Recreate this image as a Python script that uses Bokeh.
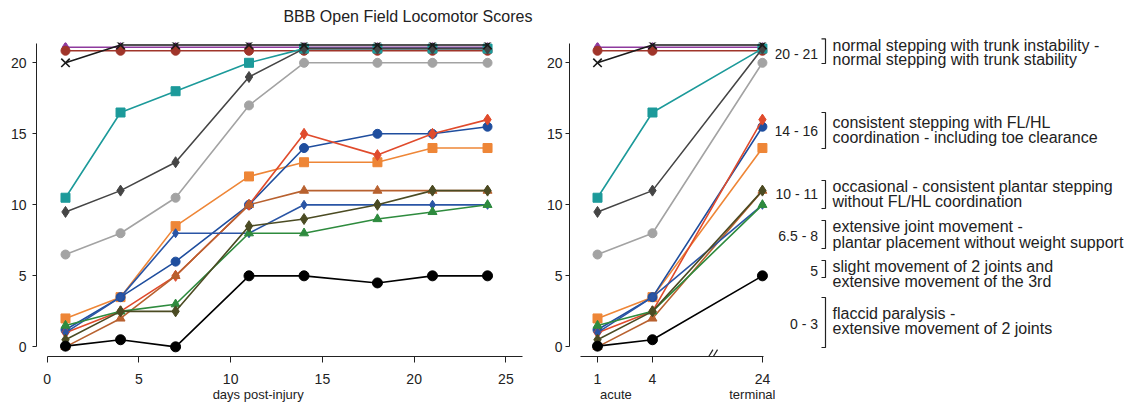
from bokeh.plotting import figure
from bokeh.models import Range1d, FixedTicker, LinearAxis
from bokeh.layouts import row
from bokeh.embed import file_html
from bokeh.resources import INLINE
from bokeh.core.properties import value

# ---------------- data ----------------
title_text = "BBB Open Field Locomotor Scores"
x_label = "days post-injury"
days = [1, 4, 7, 11, 14, 18, 21, 24]
left_xticks = [0, 5, 10, 15, 20, 25]
y_ticks = [0, 5, 10, 15, 20]
right_days = [1, 4, 24]
right_tick_labels = ["1", "4", "24"]
right_sub_labels = ["acute", "terminal"]

s_purple = [21.1, 21.1, 21.1, 21.1, 21.1, 21.1, 21.1, 21.1]
s_darkred = [20.85, 20.85, 20.85, 20.85, 20.85, 20.85, 20.85, 20.85]
s_teal = [10.5, 16.5, 18, 20, 21, 21, 21, 21]
s_darkgray = [9.5, 11, 13, 19, 21, 21, 21, 21]
s_lightgray = [6.5, 8, 10.5, 17, 20, 20, 20, 20]
s_orange = [2, 3.5, 8.5, 12, 13, 13, 14, 14]
s_bluecirc = [1.2, 3.5, 6, 10, 14, 15, 15, 15.5]
s_red = [1, 2.5, 5, 10, 15, 13.5, 15, 16]
s_brown = [0, 2, 5, 10, 11, 11, 11, 11]
s_bluediam = [1, 3.5, 8, 8, 10, 10, 10, 10]
s_green = [1.5, 2.5, 3, 8, 8, 9, 9.5, 10]
s_olive = [0.5, 2.5, 2.5, 8.5, 9, 10, 11, 11]
s_black = [0.05, 0.5, 0, 5, 5, 4.5, 5, 5]
s_cross = [20, 21.25, 21.25, 21.25, 21.25, 21.25, 21.25, 21.25]

bbb_ranges = ["20 - 21", "14 - 16", "10 - 11", "6.5 - 8", "5", "0 - 3"]
bbb_line1 = ["normal stepping with trunk instability -",
             "consistent stepping with FL/HL",
             "occasional - consistent plantar stepping",
             "extensive joint movement -",
             "slight movement of 2 joints and",
             "flaccid paralysis -"]
bbb_line2 = ["normal stepping with trunk stability",
             "coordination - including toe clearance",
             "without FL/HL coordination",
             "plantar placement without weight support",
             "extensive movement of the 3rd",
             "extensive movement of 2 joints"]

# ---------------- styles ----------------
FONT = "Liberation Sans"
TXT = "#222222"
series = [
    (s_purple, "#8E3A9E", "diamond", 10),
    (s_darkred, "#A0352A", "circle", 9),
    (s_teal, "#1C9A9A", "square", 9),
    (s_darkgray, "#454545", "diamond", 11),
    (s_lightgray, "#A3A3A3", "circle", 9),
    (s_orange, "#EE8637", "square", 9),
    (s_bluecirc, "#1F4E9E", "circle", 9),
    (s_red, "#E04B2C", "diamond", 11),
    (s_brown, "#B8612F", "triangle", 9),
    (s_bluediam, "#2A55A5", "diamond", 9),
    (s_green, "#2E8B3E", "triangle", 9),
    (s_olive, "#4B4B23", "diamond", 11),
    (s_black, "#000000", "circle", 10),
    (s_cross, "#1A1A1A", "x", 12),
]

H = 410
TOP = 42
BOTTOM = 54


def style_axes(p):
    p.xgrid.visible = False
    p.ygrid.visible = False
    p.outline_line_color = None
    for ax in p.xaxis + p.yaxis:
        ax.axis_line_color = TXT
        ax.major_tick_line_color = TXT
        ax.minor_tick_line_color = None
        ax.major_tick_in = 0
        ax.major_label_text_font = FONT
        ax.major_label_text_font_size = "14px"
        ax.major_label_text_color = TXT


def text_axis(ticks, overrides, size="13px", standoff=0):
    # an axis with no line and no ticks, used only to place a text under/over the frame
    return LinearAxis(ticker=FixedTicker(ticks=ticks), major_label_overrides=overrides,
                      axis_line_color=None, major_tick_line_color=None,
                      minor_tick_line_color=None, major_tick_out=0, major_tick_in=0,
                      minor_tick_out=0, minor_tick_in=0,
                      major_label_standoff=standoff, major_label_text_font=FONT,
                      major_label_text_font_size=size, major_label_text_color=TXT)


# ---------------- left panel ----------------
pl = figure(width=540, height=H, output_backend="svg", toolbar_location=None,
            x_range=Range1d(-0.58, 25.96), y_range=Range1d(-0.68, 21.43),
            min_border_left=36, min_border_right=17, min_border_top=TOP,
            min_border_bottom=BOTTOM)
style_axes(pl)
pl.xaxis.ticker = FixedTicker(ticks=left_xticks)
pl.yaxis.ticker = FixedTicker(ticks=y_ticks)
pl.xaxis.bounds = (0, 25.9)
pl.yaxis.bounds = (0, 21.35)
pl.xaxis.major_tick_out = 6
pl.xaxis.major_label_standoff = 11
pl.yaxis.major_tick_out = 4
pl.yaxis.major_label_standoff = 6
pl.add_layout(text_axis([11.5], {11.5: x_label}), "below")
# chart title, centred over the two panels
pl.add_layout(text_axis([19.66], {19.66: title_text}, size="16px", standoff=18), "above")

for vals, col, mk, sz in series:
    pl.line(days, vals, line_color=col, line_width=1.6)
    if mk == "x":
        pl.scatter(days, vals, marker=mk, size=sz, line_color=col, line_width=1.6)
    else:
        pl.scatter(days, vals, marker=mk, size=sz, fill_color=col, line_color=col)

# ---------------- right panel ----------------
right_pos = [1, 4, 10]  # axis position of each day (broken axis)
idx = [days.index(d) for d in right_days]

pr = figure(width=235, height=H, output_backend="svg", toolbar_location=None,
            x_range=Range1d(-0.528, 10.44), y_range=Range1d(-0.68, 21.43),
            min_border_left=29, min_border_right=5, min_border_top=TOP,
            min_border_bottom=BOTTOM)
style_axes(pr)
pr.xaxis.ticker = FixedTicker(ticks=right_pos)
pr.xaxis.major_label_overrides = {p: lab for p, lab in zip(right_pos, right_tick_labels)}
pr.yaxis.ticker = FixedTicker(ticks=y_ticks)
pr.xaxis.bounds = (0.08, 10.05)
pr.yaxis.bounds = (0, 21.35)
pr.xaxis.major_tick_out = 6
pr.xaxis.major_label_standoff = 11
pr.yaxis.major_tick_out = 4
pr.yaxis.major_label_standoff = 3
pr.add_layout(text_axis([2, 10], {2: right_sub_labels[0], 10: right_sub_labels[1]}), "below")

for vals, col, mk, sz in series:
    rv = [vals[i] for i in idx]
    pr.line(right_pos, rv, line_color=col, line_width=1.6)
    if mk == "x":
        pr.scatter(right_pos, rv, marker=mk, size=sz, line_color=col, line_width=1.6)
    else:
        pr.scatter(right_pos, rv, marker=mk, size=sz, fill_color=col, line_color=col)

# axis-break mark "//" between 4 and 24
pr.segment(x0=[7.08, 7.33], y0=[-0.66, -0.66], x1=[7.3, 7.55], y1=[-0.2, -0.2],
           line_color=TXT, line_width=1.2)

# ---------------- annotation panel ----------------
W_A = 355
pa = figure(width=W_A, height=H, output_backend="svg", toolbar_location=None,
            x_range=Range1d(0, W_A), y_range=Range1d(H, 0),
            min_border_left=0, min_border_right=0, min_border_top=0, min_border_bottom=0,
            x_axis_location=None, y_axis_location=None)
pa.frame_align = False
pa.xgrid.visible = False
pa.ygrid.visible = False
pa.outline_line_color = None

range_y = [53.3, 130, 193.3, 235, 270, 323.3]
br_top = [38.3, 112, 180, 220, 260, 297]
br_bot = [63, 148, 208, 248, 277, 347]
l1_y = [45, 121.7, 185.7, 226, 265.7, 313.3]
l2_y = [59.3, 137.3, 200.7, 242.3, 280.7, 328.3]

pa.text(x=[42.5] * len(bbb_ranges), y=range_y, text=bbb_ranges, text_align="right",
        text_baseline="middle", text_font=value(FONT), text_font_size=value("14px"),
        text_color=TXT)
pa.text(x=[57] * len(bbb_line1), y=l1_y, text=bbb_line1, text_align="left",
        text_baseline="middle", text_font=value(FONT), text_font_size=value("16px"),
        text_color=TXT)
pa.text(x=[57] * len(bbb_line2), y=l2_y, text=bbb_line2, text_align="left",
        text_baseline="middle", text_font=value(FONT), text_font_size=value("16px"),
        text_color=TXT)
xs = [[46, 50, 50, 46] for _ in br_top]
ys = [[t, t, b, b] for t, b in zip(br_top, br_bot)]
pa.multi_line(xs=xs, ys=ys, line_color=TXT, line_width=1.2)

layout = row(pl, pr, pa)
open("out.html", "w").write(file_html(layout, INLINE))
